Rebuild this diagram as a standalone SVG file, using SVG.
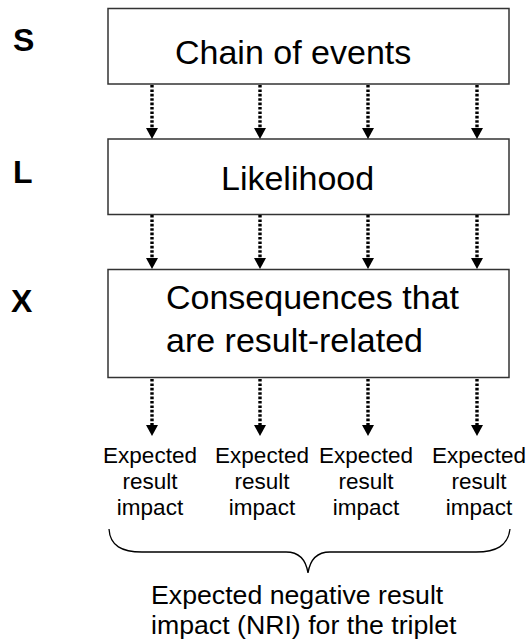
<svg xmlns="http://www.w3.org/2000/svg" width="529" height="642" viewBox="0 0 529 642">
<style>
.box{fill:#fff;stroke:#333;stroke-width:1.5}
.t{font-family:"Liberation Sans",Arial,sans-serif;fill:#000}
.big{font-size:34px}
.lab{font-size:32px;font-weight:bold}
.small{font-size:22.5px;text-anchor:middle}
.nri{font-size:26.7px}
.arr{stroke:#000;stroke-width:3.4;stroke-dasharray:2.6 1.8;fill:none}
.brace{fill:none;stroke:#000;stroke-width:1.3}
</style>
<defs>
<marker id="ah" markerUnits="userSpaceOnUse" markerWidth="12" markerHeight="12" refX="0" refY="6" orient="auto" viewBox="0 0 12 12">
<path d="M0,0 L11,6 L0,12 Z" fill="#000"/>
</marker>
</defs>
<rect width="529" height="642" fill="#fff"/>
<g id="label-s"><text class="t lab" x="13" y="51">S</text></g>
<g id="label-l"><text class="t lab" x="13" y="183">L</text></g>
<g id="label-x"><text class="t lab" x="11" y="312">X</text></g>
<g id="chain">
<rect class="box" x="108" y="8.5" width="401" height="75.5"/>
<text class="t big" x="175" y="64">Chain of events</text>
</g>
<g id="likelihood">
<rect class="box" x="108" y="139" width="401" height="75.5"/>
<text class="t big" x="221" y="190">Likelihood</text>
</g>
<g id="consequences">
<rect class="box" x="108" y="269.5" width="401" height="108"/>
<text class="t big" x="166" y="309">Consequences that</text>
<text class="t big" x="166" y="351.5">are result-related</text>
</g>
<g id="connectors">
<path class="arr" d="M152,85 V128" marker-end="url(#ah)"/>
<path class="arr" d="M260,85 V128" marker-end="url(#ah)"/>
<path class="arr" d="M368,85 V128" marker-end="url(#ah)"/>
<path class="arr" d="M477,85 V128" marker-end="url(#ah)"/>
<path class="arr" d="M152,215 V258" marker-end="url(#ah)"/>
<path class="arr" d="M260,215 V258" marker-end="url(#ah)"/>
<path class="arr" d="M368,215 V258" marker-end="url(#ah)"/>
<path class="arr" d="M477,215 V258" marker-end="url(#ah)"/>
<path class="arr" d="M152,379 V425" marker-end="url(#ah)"/>
<path class="arr" d="M260,379 V425" marker-end="url(#ah)"/>
<path class="arr" d="M368,379 V425" marker-end="url(#ah)"/>
<path class="arr" d="M477,379 V425" marker-end="url(#ah)"/>
</g>
<g id="impact1"><text class="t small" x="150" y="463">Expected</text><text class="t small" x="150" y="489">result</text><text class="t small" x="150" y="515">impact</text></g>
<g id="impact2"><text class="t small" x="262" y="463">Expected</text><text class="t small" x="262" y="489">result</text><text class="t small" x="262" y="515">impact</text></g>
<g id="impact3"><text class="t small" x="366" y="463">Expected</text><text class="t small" x="366" y="489">result</text><text class="t small" x="366" y="515">impact</text></g>
<g id="impact4"><text class="t small" x="479" y="463">Expected</text><text class="t small" x="479" y="489">result</text><text class="t small" x="479" y="515">impact</text></g>
<g id="brace">
<path class="brace" d="M109,529 C110,546 122,552 142,552 L286,552 C300,552 306,560 308,573 C310,560 316,552 330,552 L476,552 C496,552 508,546 510,529"/>
</g>
<g id="nri">
<text class="t nri" x="151" y="604">Expected negative result</text>
<text class="t nri" x="151" y="634">impact (NRI) for the triplet</text>
</g>
</svg>
